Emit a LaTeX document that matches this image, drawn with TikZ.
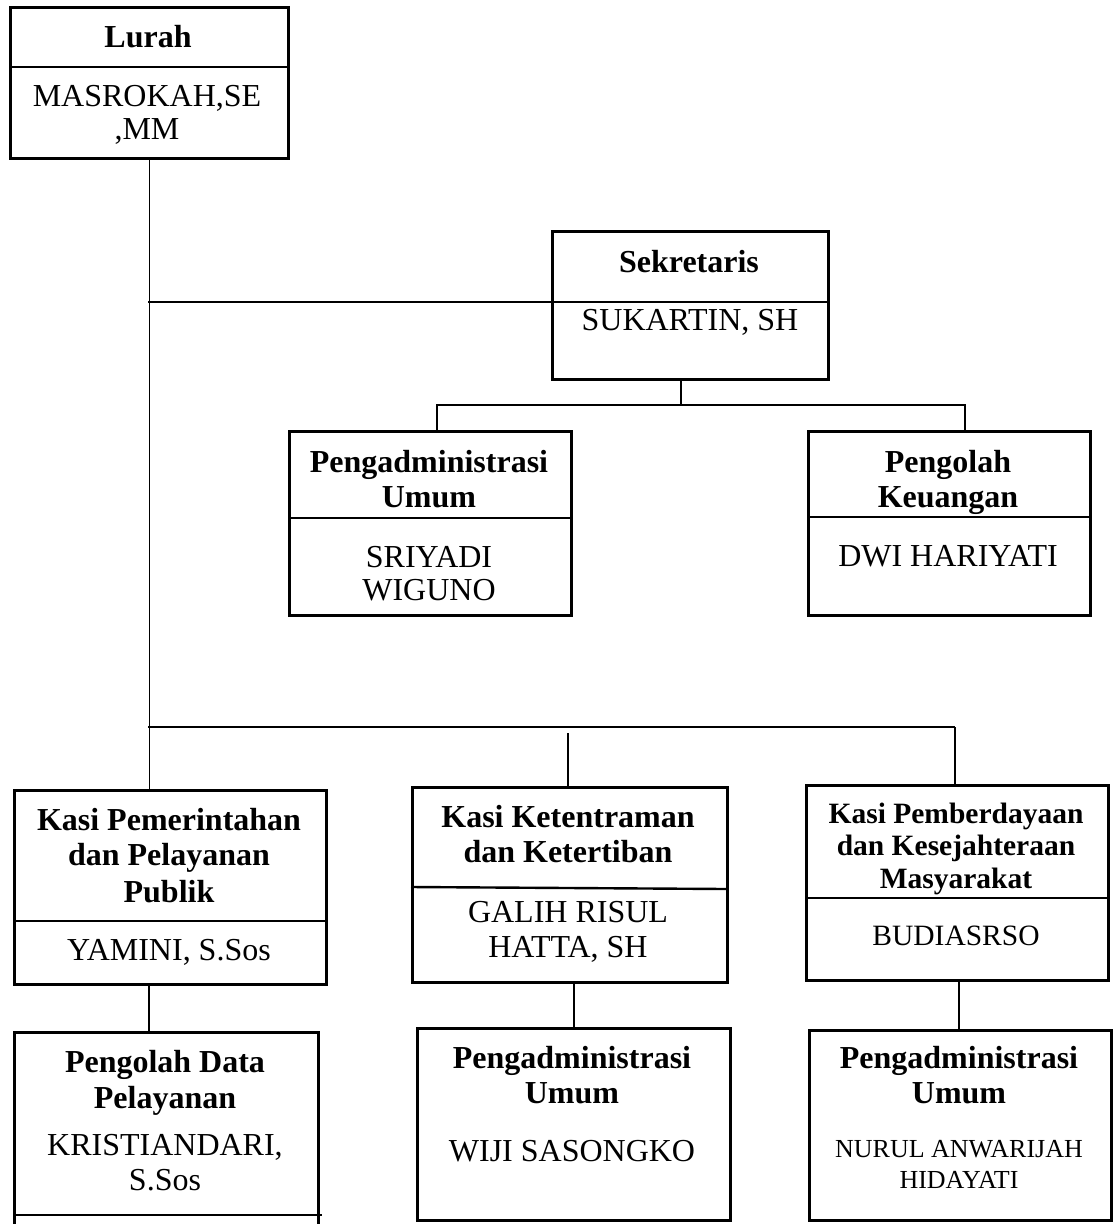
\documentclass[tikz,border=0pt]{standalone}
\usepackage{fontspec}
\setmainfont{Liberation Serif}
\begin{document}
\begin{tikzpicture}[x=1pt,y=-1pt,
  box/.style={draw, line width=2.6pt, inner sep=0pt, anchor=north west},
  divline/.style={line width=2.4pt},
  conn/.style={line width=1.4pt},
  bus/.style={line width=2.6pt},
  drop/.style={line width=2.2pt},
  hd/.style={font=\fontsize{32}{35}\selectfont\bfseries, anchor=base, inner sep=0pt},
  nm/.style={font=\fontsize{32}{35}\selectfont, anchor=base, inner sep=0pt},
  hds/.style={font=\fontsize{29.5}{32}\selectfont\bfseries, anchor=base, inner sep=0pt},
  nms/.style={font=\fontsize{29.5}{32}\selectfont, anchor=base, inner sep=0pt},
  nmt/.style={font=\fontsize{26}{30}\selectfont, anchor=base, inner sep=0pt}]
\fill[white] (0,0) rectangle (1118,1224);
\path[use as bounding box, clip] (0,0) rectangle (1118,1224);

% boxes
\node[box, minimum width=278pt, minimum height=151pt] (lurah) at (9,6) {};
\node[box, minimum width=276pt, minimum height=148pt] (sek) at (551,230) {};
\node[box, minimum width=282pt, minimum height=184pt] (pa1) at (288,430) {};
\node[box, minimum width=282pt, minimum height=184pt] (pk) at (807,430) {};
\node[box, minimum width=312pt, minimum height=194pt] (k1) at (13,789) {};
\node[box, minimum width=315pt, minimum height=195pt] (k2) at (411,786) {};
\node[box, minimum width=302pt, minimum height=195pt] (k3) at (805,784) {};
\node[box, minimum width=304pt, minimum height=230pt] (pd) at (13,1031) {};
\node[box, minimum width=313pt, minimum height=192pt] (pa2) at (416,1027) {};
\node[box, minimum width=302pt, minimum height=190pt] (pa3) at (808,1029) {};

% dividers
\draw[divline] (9,67) -- (289,67);
\draw[divline] (551,302) -- (829,302);
\draw[divline] (288,518) -- (571,518);
\draw[divline] (807,517) -- (1089,517);
\draw[divline] (13,921) -- (325,921);
\draw[divline] (411,887) -- (726,889);
\draw[divline] (805,898) -- (1110,898);
\draw[divline] (13,1215) -- (322,1215);

% texts
\node[hd] (tLurah) at (148,47) {Lurah};
\node[nm] (tMas1) at (147,106) {MASROKAH,SE};
\node[nm] (tMas2) at (147,139) {,MM};

\node[hd] (tSek) at (689,272) {Sekretaris};
\node[nm] (tSuk) at (690,330) {SUKARTIN, SH};

\node[hd] (tPa1a) at (429,472) {Pengadministrasi};
\node[hd] (tPa1b) at (429,507) {Umum};
\node[nm] (tSri1) at (429,567) {SRIYADI};
\node[nm] (tSri2) at (429,600) {WIGUNO};

\node[hd] (tPk1) at (948,472) {Pengolah};
\node[hd] (tPk2) at (948,507) {Keuangan};
\node[nm] (tDwi) at (948,566) {DWI HARIYATI};

\node[hd] (tK1a) at (169,830) {Kasi Pemerintahan};
\node[hd] (tK1b) at (169,865) {dan Pelayanan};
\node[hd] (tK1c) at (169,902) {Publik};
\node[nm] (tYam) at (169,960) {YAMINI, S.Sos};

\node[hd] (tK2a) at (568,827) {Kasi Ketentraman};
\node[hd] (tK2b) at (568,862) {dan Ketertiban};
\node[nm] (tGal1) at (568,922) {GALIH RISUL};
\node[nm] (tGal2) at (568,957) {HATTA, SH};

\node[hds] (tK3a) at (956,823) {Kasi Pemberdayaan};
\node[hds] (tK3b) at (956,855) {dan Kesejahteraan};
\node[hds] (tK3c) at (956,888) {Masyarakat};
\node[nms] (tBud) at (956,945) {BUDIASRSO};

\node[hd] (tPd1) at (165,1072) {Pengolah Data};
\node[hd] (tPd2) at (165,1108) {Pelayanan};
\node[nm] (tKr1) at (165,1155) {KRISTIANDARI,};
\node[nm] (tKr2) at (165,1190) {S.Sos};

\node[hd] (tPa2a) at (572,1068) {Pengadministrasi};
\node[hd] (tPa2b) at (572,1103) {Umum};
\node[nm] (tWij) at (572,1161) {WIJI SASONGKO};

\node[hd] (tPa3a) at (959,1068) {Pengadministrasi};
\node[hd] (tPa3b) at (959,1103) {Umum};
\node[nmt] (tNur1) at (959,1157) {NURUL ANWARIJAH};
\node[nmt] (tNur2) at (959,1188) {HIDAYATI};

% connectors
\coordinate (sekj) at (148,302);
\coordinate (busL) at (148,727);
\coordinate (busR) at (955,727);
\coordinate (sekd) at (681,378);
\coordinate (sbL) at (437,405);
\coordinate (sbR) at (965,405);
\coordinate (midtop) at (568,733);

\draw[conn] (lurah.south) -- (lurah.south |- k1.north);
\draw[conn] (sekj) -- (sekj -| sek.west);
\draw[drop] (sekd) -- (sekd |- sbL);
\draw[bus] (sbL |- pa1.north) -- (sbL) -- (sbR) -- (sbR |- pk.north);
\draw[bus] (busL) -- (busR);
\draw[drop] (busR) -- (busR |- k3.north);
\draw[drop] (midtop) -- (midtop |- k2.north);
\draw[drop] (lurah.south |- k1.south) -- (lurah.south |- pd.north);
\draw[drop] ([xshift=4.5pt]k2.south) -- ([xshift=4.5pt]k2.south |- pa2.north);
\draw[drop] ([xshift=2pt]k3.south) -- ([xshift=2pt]k3.south |- pa3.north);
\end{tikzpicture}
\end{document}
